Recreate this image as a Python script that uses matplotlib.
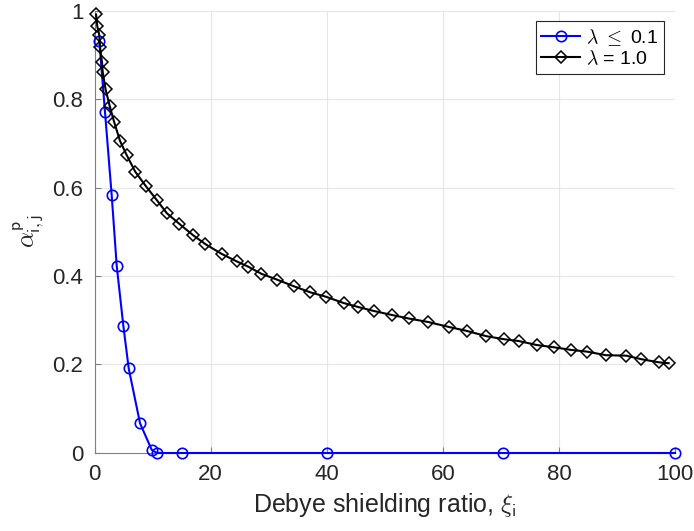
import matplotlib
matplotlib.use('Agg')
import matplotlib.pyplot as plt

plt.rcParams['font.family'] = ['Liberation Sans', 'DejaVu Sans']
plt.rcParams['mathtext.fontset'] = 'cm'

# lambda <= 0.1
xi_low = [0.83, 1.81, 2.96, 3.83, 4.97, 5.89, 7.84, 9.86, 10.75, 15.0, 40.0, 70.3, 100.0]
alpha_low = [0.93, 0.770, 0.582, 0.422, 0.287, 0.191, 0.067, 0.007, 0.0, 0.0, 0.0, 0.0, 0.0]

# lambda = 1.0
xi_one = [0.26, 0.48, 0.83, 0.95, 1.29, 1.41, 1.9, 2.6, 3.36, 4.4, 5.55, 7.0, 8.85, 10.7,
          12.45, 14.6, 17.0, 19.1, 21.9, 24.5, 26.5, 28.75, 31.4, 34.3, 37.2, 39.9, 42.9,
          45.4, 48.1, 51.2, 54.1, 57.5, 61.0, 64.1, 67.5, 70.6, 73.1, 76.2, 79.1, 82.1,
          84.9, 88.1, 91.6, 94.2, 97.2, 98.9]
alpha_one = [0.991, 0.964, 0.944, 0.917, 0.883, 0.861, 0.822, 0.785, 0.749, 0.705, 0.673,
             0.636, 0.603, 0.572, 0.542, 0.518, 0.492, 0.472, 0.450, 0.433, 0.421, 0.405,
             0.392, 0.377, 0.363, 0.353, 0.339, 0.330, 0.321, 0.312, 0.304, 0.296, 0.285,
             0.276, 0.264, 0.257, 0.253, 0.244, 0.239, 0.233, 0.229, 0.221, 0.220, 0.212,
             0.205, 0.203]

xticks = [0, 20, 40, 60, 80, 100]
yticks = [0, 0.2, 0.4, 0.6, 0.8, 1]
yticklabels = ['0', '0.2', '0.4', '0.6', '0.8', '1']

fig = plt.figure(figsize=(6.94, 5.31), dpi=100)
ax = fig.add_axes([0.1362, 0.1469, 0.8364, 0.8333])

ax.plot(xi_low, alpha_low, '-o', color='#0000ff', lw=1.5, ms=7.5, mfc='none', mew=1.2,
        clip_on=False, zorder=3, label=r'$\lambda$ $\leq$ 0.1')
ax.plot(xi_one, alpha_one, '-D', color='black', lw=1.5, ms=6.2, mfc='none', mew=1.1,
        clip_on=False, zorder=3, label=r'$\lambda$ = 1.0')

ax.set_xlim(0, 100)
ax.set_ylim(0, 1)
ax.set_xticks(xticks)
ax.set_yticks(yticks)
ax.set_yticklabels(yticklabels)
ax.tick_params(direction='in', length=4, labelsize=16, colors='#262626', pad=8)
ax.tick_params(color='#808080')
ax.grid(True, color='#e6e6e6', lw=0.8)
ax.set_axisbelow(True)
for s in ['top', 'right']:
    ax.spines[s].set_visible(False)
for s in ['left', 'bottom']:
    ax.spines[s].set_color('#808080')
    ax.spines[s].set_linewidth(0.8)

ax.set_xlabel(r'Debye shielding ratio, $\xi_{\mathsf{i}}$', fontsize=18, color='#262626',
              labelpad=4)
ax.set_ylabel(r'$\alpha^{\mathsf{p}}_{\mathsf{i,j}}$', fontsize=18, color='#262626',
              labelpad=4)

leg = ax.legend(loc='upper right', fontsize=14, fancybox=False, framealpha=1,
                edgecolor='#262626', handlelength=2.0, handletextpad=0.3,
                borderpad=0.3, labelspacing=0.1, borderaxespad=0.55)
leg.get_frame().set_linewidth(0.8)

fig.savefig('out.png', dpi=100)
